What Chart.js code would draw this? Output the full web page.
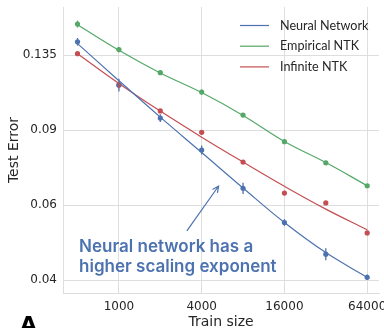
<!DOCTYPE html>
<html>
<head>
<meta charset="utf-8">
<script src="https://cdn.jsdelivr.net/npm/chart.js@4.4.0/dist/chart.umd.min.js"></script>
<style>
  html, body { margin: 0; padding: 0; background: #fff; }
  #wrap { width: 384px; height: 328px; position: relative; }
</style>
</head>
<body>
<div id="wrap"><canvas id="chart"></canvas></div>
<script>
const trainSizes = [500, 1000, 2000, 4000, 8000, 16000, 32000, 64000];
const xTicks = [1000, 4000, 16000, 64000];
const yTicks = [0.04, 0.06, 0.09, 0.135];

const seriesNames = ["Neural Network", "Empirical NTK", "Infinite NTK"];
const seriesColors = ["#4c72b0", "#55a868", "#c44e52"];

// measured points
const nnError = [0.145, 0.1148, 0.096, 0.0808, 0.0657, 0.0546, 0.046, 0.0406];
const entkError = [0.1596, 0.139, 0.1227, 0.1105, 0.0976, 0.0845, 0.0754, 0.0666];
const intkError = [0.136, 0.1148, 0.0998, 0.0889, 0.0757, 0.064, 0.0607, 0.0516];

// error bar half widths
const nnSpread = [0.003, 0.004, 0.002, 0.002, 0.002, 0.001, 0.0015, 0.0006];
const entkSpread = [0.003, 0.002, 0.0015, 0.0015, 0.0008, 0.0008, 0.0008, 0.0006];
const intkSpread = [0.001, 0.002, 0.001, 0.0008, 0.0006, 0.0006, 0.0005, 0.0005];

// fitted scaling curves
const nnFit = [0.1436, 0.1175, 0.0965, 0.0797, 0.0658, 0.0546, 0.0464, 0.0406];
const entkFit = [0.159, 0.1385, 0.1225, 0.1102, 0.0974, 0.0846, 0.0755, 0.0666];
const intkFit = [0.136, 0.1158, 0.0997, 0.0866, 0.0757, 0.0664, 0.0587, 0.0525];

const pointSets = [nnError, entkError, intkError];
const spreadSets = [nnSpread, entkSpread, intkSpread];
const fitSets = [nnFit, entkFit, intkFit];

const toXY = vals => trainSizes.map((x, i) => ({ x: x, y: vals[i] }));

const datasets = [];
fitSets.forEach((vals, i) => {
  datasets.push({
    label: seriesNames[i],
    data: toXY(vals),
    showLine: true,
    borderColor: seriesColors[i],
    borderWidth: 1.2,
    pointRadius: 0,
    tension: 0.4
  });
});
pointSets.forEach((vals, i) => {
  datasets.push({
    label: seriesNames[i] + " points",
    data: toXY(vals),
    showLine: false,
    backgroundColor: seriesColors[i],
    borderColor: seriesColors[i],
    pointRadius: 2.6,
    pointBorderWidth: 0,
    errIndex: i
  });
});

const errorBars = {
  id: "errorBars",
  afterDatasetsDraw(chart) {
    const ctx = chart.ctx, xs = chart.scales.x, ys = chart.scales.y;
    ctx.save();
    ctx.lineWidth = 1.3;
    chart.data.datasets.forEach(ds => {
      if (ds.errIndex === undefined) return;
      const vals = pointSets[ds.errIndex], sp = spreadSets[ds.errIndex];
      ctx.strokeStyle = seriesColors[ds.errIndex];
      trainSizes.forEach((t, i) => {
        const px = xs.getPixelForValue(t);
        ctx.beginPath();
        ctx.moveTo(px, ys.getPixelForValue(vals[i] + sp[i]));
        ctx.lineTo(px, ys.getPixelForValue(vals[i] - sp[i]));
        ctx.stroke();
      });
    });
    ctx.restore();
  }
};

const legendBox = {
  id: "legendBox",
  afterDraw(chart) {
    const ctx = chart.ctx, a = chart.chartArea;
    ctx.save();
    ctx.font = "12.6px Lato";
    ctx.textBaseline = "middle";
    seriesNames.forEach((name, i) => {
      const y = a.top + 18.5 + i * 20.7;
      const x0 = a.right - 139;
      ctx.strokeStyle = seriesColors[i];
      ctx.lineWidth = 1.2;
      ctx.beginPath();
      ctx.moveTo(x0, y);
      ctx.lineTo(x0 + 29, y);
      ctx.stroke();
      ctx.fillStyle = "#262626";
      ctx.fillText(name, x0 + 40, y);
    });
    ctx.restore();
  }
};

const annotation = {
  id: "annotation",
  afterDraw(chart) {
    const ctx = chart.ctx, xs = chart.scales.x, ys = chart.scales.y;
    ctx.save();
    const c = "#4c72b0";
    // arrow
    const x1 = xs.getPixelForValue(3122), y1 = ys.getPixelForValue(0.0522);
    const x2 = xs.getPixelForValue(5313), y2 = ys.getPixelForValue(0.0665);
    ctx.strokeStyle = c;
    ctx.lineWidth = 1.2;
    ctx.beginPath();
    ctx.moveTo(x1, y1);
    ctx.lineTo(x2, y2);
    const ang = Math.atan2(y2 - y1, x2 - x1);
    ctx.moveTo(x2 - 7 * Math.cos(ang - 0.45), y2 - 7 * Math.sin(ang - 0.45));
    ctx.lineTo(x2, y2);
    ctx.lineTo(x2 - 7 * Math.cos(ang + 0.45), y2 - 7 * Math.sin(ang + 0.45));
    ctx.stroke();
    // text
    ctx.fillStyle = c;
    ctx.font = "600 17px Inter";
    ctx.textBaseline = "alphabetic";
    const tx = xs.getPixelForValue(513), ty = ys.getPixelForValue(0.0466);
    ctx.fillText("Neural network has a", tx, ty);
    ctx.fillText("higher scaling exponent", tx, ty + 20);
    // panel label
    ctx.fillStyle = "#000";
    ctx.font = "bold 22px 'DejaVu Sans'";
    ctx.fillText("A", 20, 332);
    ctx.restore();
  }
};

new Chart(document.getElementById("chart"), {
  type: "scatter",
  data: { datasets: datasets },
  options: {
    responsive: true,
    maintainAspectRatio: false,
    animation: false,
    layout: { padding: { top: 7, right: 5, left: 0, bottom: 0 } },
    plugins: { legend: { display: false }, tooltip: { enabled: false } },
    scales: {
      x: {
        type: "logarithmic",
        min: 392,
        max: 78000,
        afterBuildTicks: s => { s.ticks = xTicks.map(v => ({ value: v })); },
        afterFit: s => { s.height = 35; s.paddingLeft = 0; s.paddingRight = 0; },
        ticks: {
          color: "#262626",
          font: { family: "'DejaVu Sans'", size: 12 },
          padding: 7,
          maxRotation: 0,
          autoSkip: false,
          callback: v => String(v)
        },
        grid: { color: "#dedede", lineWidth: 1, drawTicks: false },
        border: { color: "#dedede" },
        title: {
          display: true,
          text: "Train size",
          color: "#262626",
          font: { family: "'DejaVu Sans'", size: 14 },
          padding: { top: 2, bottom: -3 }
        }
      },
      y: {
        type: "logarithmic",
        min: 0.0373,
        max: 0.175,
        afterBuildTicks: s => { s.ticks = yTicks.map(v => ({ value: v })); },
        afterFit: s => { s.width = 63; s.paddingTop = 0; s.paddingBottom = 0; },
        ticks: {
          color: "#262626",
          font: { family: "'DejaVu Sans'", size: 12 },
          padding: 6,
          autoSkip: false,
          callback: v => String(v)
        },
        grid: { color: "#dedede", lineWidth: 1, drawTicks: false },
        border: { color: "#dedede" },
        title: {
          display: true,
          text: "Test Error",
          color: "#262626",
          font: { family: "'DejaVu Sans'", size: 14 },
          padding: { top: 6, bottom: 0 }
        }
      }
    }
  },
  plugins: [errorBars, legendBox, annotation]
});
</script>
</body>
</html>
